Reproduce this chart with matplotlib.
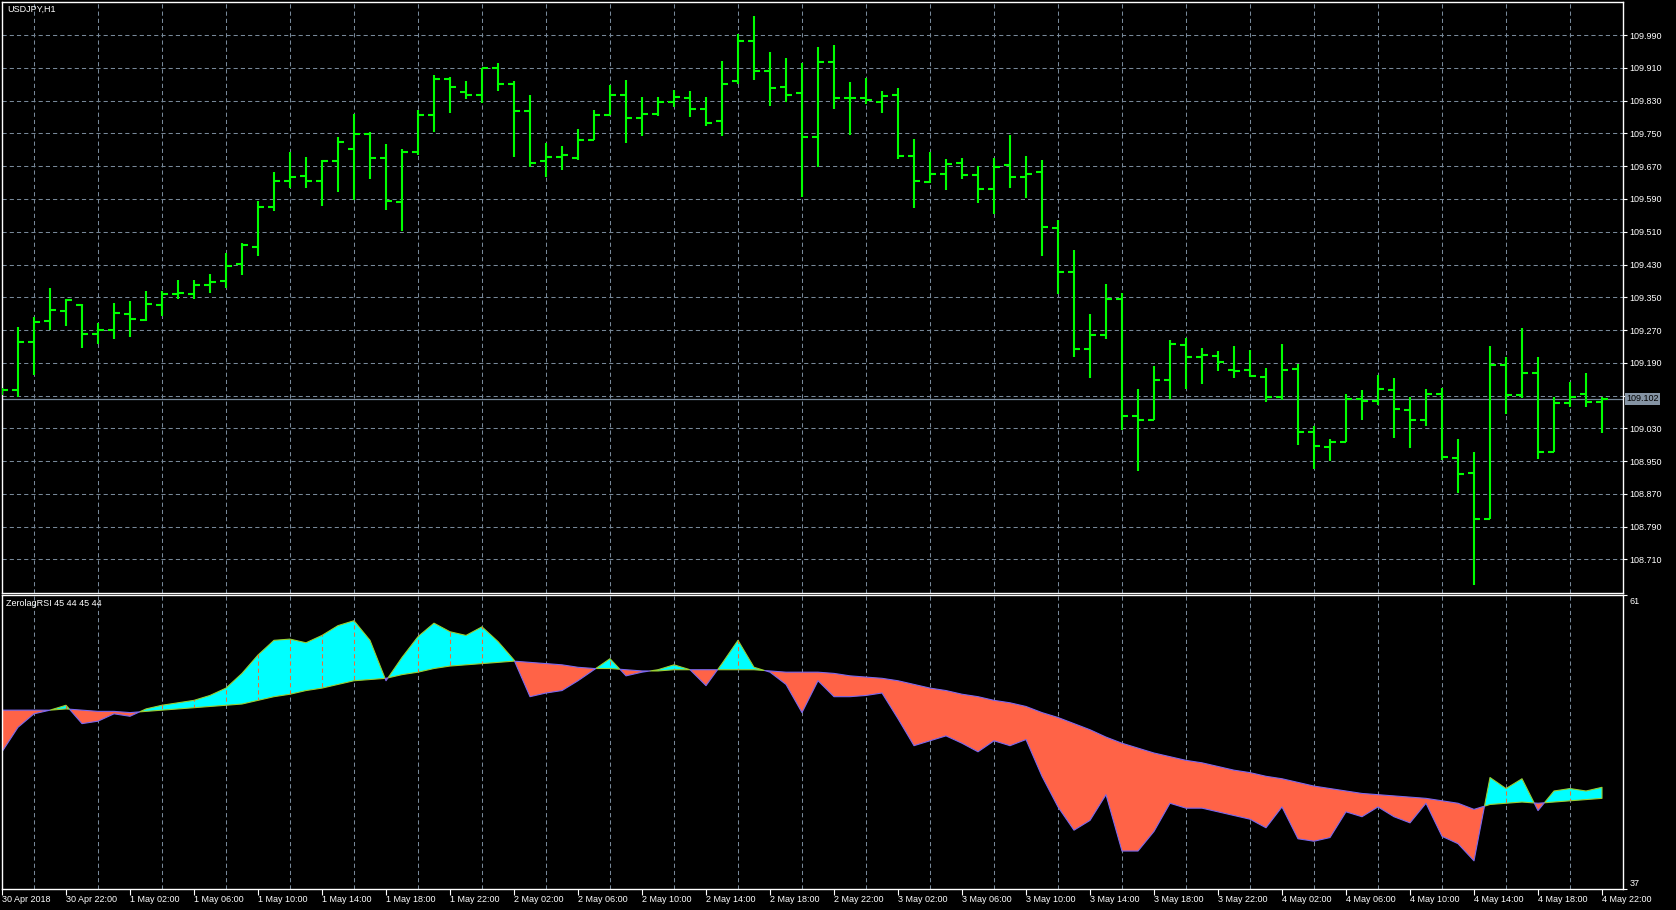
import numpy as np
import matplotlib.pyplot as plt
from matplotlib.path import Path

plt.rcParams['font.family'] = ['Liberation Sans', 'DejaVu Sans']
plt.rcParams['lines.scale_dashes'] = False

# === Dati USDJPY H1 (30 Apr 18:00 -> 4 May 22:00) ===
opens = [109.120, 109.123, 109.241, 109.293, 109.317, 109.330, 109.261, 109.270, 109.310, 109.295,
         109.332, 109.359, 109.359, 109.381, 109.390, 109.432, 109.473, 109.571, 109.633, 109.647,
         109.635, 109.683, 109.713, 109.749, 109.689, 109.583, 109.705, 109.796, 109.882, 109.852,
         109.845, 109.910, 109.871, 109.805, 109.683, 109.693, 109.691, 109.734, 109.794, 109.845,
         109.787, 109.798, 109.827, 109.837, 109.811, 109.781, 109.879, 109.976, 109.903, 109.864,
         109.848, 109.742, 109.924, 109.837, 109.837, 109.827, 109.845, 109.695, 109.632, 109.652,
         109.679, 109.649, 109.614, 109.673, 109.644, 109.656, 109.520, 109.412, 109.224, 109.258,
         109.347, 109.059, 109.051, 109.149, 109.234, 109.203, 109.207, 109.173, 109.173, 109.155,
         109.107, 109.175, 109.022, 108.985, 108.997, 109.102, 109.096, 109.124, 109.075, 109.051,
         109.114, 108.958, 108.921, 108.808, 109.185, 109.112, 109.166, 108.973, 109.092, 109.114,
         109.095]
highs = [109.128, 109.277, 109.302, 109.372, 109.347, 109.333, 109.288, 109.335, 109.340, 109.366,
         109.366, 109.391, 109.391, 109.407, 109.457, 109.482, 109.585, 109.657, 109.706, 109.693,
         109.685, 109.741, 109.797, 109.754, 109.725, 109.711, 109.807, 109.892, 109.889, 109.878,
         109.911, 109.921, 109.878, 109.844, 109.726, 109.719, 109.762, 109.807, 109.868, 109.880,
         109.840, 109.840, 109.855, 109.853, 109.839, 109.926, 109.992, 110.037, 109.949, 109.934,
         109.922, 109.961, 109.966, 109.876, 109.885, 109.853, 109.861, 109.737, 109.705, 109.687,
         109.690, 109.670, 109.690, 109.746, 109.695, 109.685, 109.538, 109.466, 109.308, 109.383,
         109.360, 109.125, 109.183, 109.245, 109.251, 109.226, 109.218, 109.231, 109.221, 109.177,
         109.236, 109.187, 109.036, 109.003, 109.113, 109.123, 109.160, 109.154, 109.106, 109.125,
         109.129, 109.003, 108.973, 109.232, 109.204, 109.275, 109.204, 109.106, 109.144, 109.165,
         109.107]
lows = [109.112, 109.106, 109.160, 109.269, 109.280, 109.227, 109.235, 109.249, 109.254, 109.293,
        109.305, 109.347, 109.345, 109.361, 109.372, 109.405, 109.452, 109.560, 109.618, 109.616,
        109.574, 109.606, 109.588, 109.640, 109.564, 109.512, 109.698, 109.754, 109.801, 109.835,
        109.824, 109.854, 109.693, 109.667, 109.643, 109.662, 109.685, 109.734, 109.794, 109.726,
        109.743, 109.793, 109.814, 109.790, 109.768, 109.743, 109.870, 109.880, 109.816, 109.826,
        109.594, 109.669, 109.811, 109.747, 109.822, 109.801, 109.688, 109.568, 109.629, 109.611,
        109.639, 109.581, 109.553, 109.618, 109.593, 109.452, 109.359, 109.205, 109.153, 109.249,
        109.025, 108.926, 109.051, 109.101, 109.126, 109.139, 109.171, 109.154, 109.155, 109.095,
        109.099, 108.990, 108.931, 108.950, 108.997, 109.050, 109.087, 109.006, 108.982, 109.036,
        108.952, 108.873, 108.648, 108.808, 109.065, 109.104, 108.954, 108.973, 109.083, 109.082,
        109.019]
closes = [109.123, 109.241, 109.290, 109.319, 109.344, 109.261, 109.270, 109.312, 109.297, 109.334,
          109.359, 109.361, 109.379, 109.388, 109.427, 109.478, 109.571, 109.635, 109.644, 109.635,
          109.683, 109.728, 109.749, 109.689, 109.586, 109.705, 109.796, 109.882, 109.864, 109.845,
          109.910, 109.871, 109.805, 109.678, 109.693, 109.698, 109.734, 109.796, 109.845, 109.787,
          109.798, 109.827, 109.840, 109.811, 109.776, 109.872, 109.976, 109.903, 109.862, 109.845,
          109.742, 109.924, 109.837, 109.837, 109.831, 109.842, 109.695, 109.635, 109.652, 109.676,
          109.649, 109.614, 109.668, 109.644, 109.652, 109.522, 109.412, 109.224, 109.258, 109.347,
          109.059, 109.051, 109.149, 109.236, 109.203, 109.210, 109.191, 109.171, 109.158, 109.107,
          109.173, 109.022, 108.987, 108.997, 109.102, 109.096, 109.126, 109.078, 109.051, 109.114,
          108.960, 108.919, 108.809, 109.185, 109.112, 109.166, 108.971, 109.092, 109.107, 109.095,
          109.102]

# ZerolagRSI: linea veloce e linea lenta
rsi_fast = [48.2, 50.2, 51.3, 51.6, 52.0, 50.5, 50.7, 51.3, 51.1, 51.7,
            52.0, 52.2, 52.4, 52.8, 53.4, 54.6, 56.1, 57.3, 57.4, 57.1,
            57.7, 58.5, 58.9, 57.3, 54.0, 55.9, 57.6, 58.7, 58.0, 57.7,
            58.4, 57.2, 55.7, 52.7, 53.0, 53.2, 54.0, 54.9, 55.8, 54.4,
            54.7, 54.9, 55.3, 54.9, 53.6, 55.4, 57.3, 55.1, 54.7, 53.7,
            51.4, 54.0, 52.7, 52.7, 52.8, 53.0, 50.9, 48.7, 49.1, 49.5,
            48.9, 48.2, 49.1, 48.7, 49.2, 46.2, 43.7, 41.8, 42.6, 44.7,
            40.1, 40.1, 41.7, 44.0, 43.6, 43.6, 43.3, 43.0, 42.7, 42.0,
            43.7, 41.1, 40.9, 41.2, 43.3, 42.9, 43.7, 42.9, 42.4, 44.0,
            41.3, 40.7, 39.3, 46.1, 45.2, 46.0, 43.4, 45.0, 45.2, 45.0,
            45.3]
rsi_slow = [51.6, 51.6, 51.6, 51.6, 51.7, 51.6, 51.5, 51.5, 51.4, 51.5,
            51.6, 51.7, 51.8, 51.9, 52.0, 52.1, 52.4, 52.7, 52.9, 53.2,
            53.4, 53.7, 54.0, 54.1, 54.2, 54.5, 54.7, 55.0, 55.2, 55.3,
            55.4, 55.5, 55.6, 55.5, 55.4, 55.3, 55.1, 55.0, 55.0, 54.9,
            54.8, 54.8, 54.9, 54.9, 54.9, 54.9, 54.9, 54.9, 54.8, 54.7,
            54.7, 54.7, 54.6, 54.4, 54.3, 54.2, 54.0, 53.7, 53.4, 53.2,
            52.9, 52.7, 52.4, 52.2, 51.9, 51.4, 51.0, 50.5, 50.0, 49.4,
            48.9, 48.5, 48.1, 47.8, 47.5, 47.3, 47.0, 46.7, 46.5, 46.2,
            46.0, 45.7, 45.4, 45.2, 45.0, 44.8, 44.7, 44.6, 44.5, 44.4,
            44.2, 44.0, 43.5, 43.9, 44.0, 44.1, 44.0, 44.1, 44.2, 44.3,
            44.4]

time_labels = ["30 Apr 2018", "30 Apr 22:00",
               "1 May 02:00", "1 May 06:00", "1 May 10:00", "1 May 14:00", "1 May 18:00", "1 May 22:00",
               "2 May 02:00", "2 May 06:00", "2 May 10:00", "2 May 14:00", "2 May 18:00", "2 May 22:00",
               "3 May 02:00", "3 May 06:00", "3 May 10:00", "3 May 14:00", "3 May 18:00", "3 May 22:00",
               "4 May 02:00", "4 May 06:00", "4 May 10:00", "4 May 14:00", "4 May 18:00", "4 May 22:00"]
price_levels = [108.710, 108.790, 108.870, 108.950, 109.030, 109.110, 109.190, 109.270, 109.350,
                109.430, 109.510, 109.590, 109.670, 109.750, 109.830, 109.910, 109.990]
bid = 109.102
rsi_range = (37, 61)

# === Figura stile MetaTrader ===
W, H = 1676, 910
fig = plt.figure(figsize=(W / 100, H / 100), dpi=100, facecolor='black')


def add_px_axes(x0, y0, x1, y1):
    return fig.add_axes([x0 / W, 1 - y1 / H, (x1 - x0) / W, (y1 - y0) / H], facecolor='black')


ax = add_px_axes(2, 2, 1623, 593)
ax2 = add_px_axes(2, 595, 1623, 889)

x = np.arange(len(closes))
xmax = (1623 - 2) / 16.0
grid_col = '#778899'
green = '#00ff00'
dash = (0, (3, 2.2))
grid_x = np.arange(2, len(closes), 2)

for a in (ax, ax2):
    a.set_xlim(0, xmax)
    for s in a.spines.values():
        s.set_color('white')
        s.set_linewidth(1.0)
    a.set_xticks(grid_x, minor=True)
    a.tick_params(axis='x', which='minor', bottom=False)
    a.grid(True, which='minor', axis='x', color=grid_col, lw=0.75, linestyle=dash, zorder=0)
    a.set_axisbelow(True)

# --- pannello prezzi ---
ax.set_ylim(108.6278, 110.0711)
ax.vlines(x, lows, highs, color=green, lw=1.5, zorder=3)
ax.hlines(opens, x - 0.38, x, color=green, lw=1.5, zorder=3)
ax.hlines(closes, x, x + 0.38, color=green, lw=1.5, zorder=3)
for p in price_levels:
    ax.axhline(p, color=grid_col, lw=0.75, linestyle=dash, zorder=0)
ax.axhline(bid, color=grid_col, lw=0.9, zorder=1)

ax.set_yticks(price_levels)
ax.set_yticklabels(["" if abs(p - 109.110) < 1e-6 else f"{p:.3f}" for p in price_levels])
ax.tick_params(axis='y', left=False, labelleft=False, right=True, labelright=True,
               direction='out', length=3, width=0.8, colors='white', labelsize=6.5, pad=1.5)
ax.set_xticks(np.arange(0, len(closes), 4))
ax.tick_params(axis='x', which='major', bottom=False, labelbottom=False)
ax.text(1.002, bid, f"{bid:.3f}", transform=ax.get_yaxis_transform(), color='black',
        fontsize=6.5, va='center', ha='left', clip_on=False, zorder=10,
        bbox=dict(boxstyle='square,pad=0.15', facecolor='#8493a3', edgecolor='none'))
fig.text(7 / W, 1 - 9.5 / H, "USDJPY,H1", color='white', fontsize=6.5, va='center', ha='left')

# --- pannello ZerolagRSI ---
fast = np.array(rsi_fast)
slow = np.array(rsi_slow)
ax2.set_ylim(*rsi_range)
up = ax2.fill_between(x, fast, slow, where=fast >= slow, interpolate=True,
                      facecolor='#00ffff', edgecolor='#9acd32', lw=0.8, zorder=2)
ax2.fill_between(x, fast, slow, where=fast < slow, interpolate=True,
                 facecolor='#ff6347', edgecolor='#7b68ee', lw=0.8, zorder=2)

# griglia visibile dentro le zone ciano (come in MT4)
clip = Path.make_compound_path(*up.get_paths())
over = ax2.vlines(grid_x, rsi_range[0], rsi_range[1], color='#e8703c', lw=0.75,
                  linestyle=dash, zorder=3)
over.set_clip_path(clip, ax2.transData)

ax2.set_yticks(list(rsi_range))
ax2.tick_params(axis='y', left=False, labelleft=False, right=True, labelright=False,
                direction='out', length=3, width=0.8, colors='white')
ax2.text(1.004, 0.993, str(rsi_range[1]), transform=ax2.transAxes, color='white',
         fontsize=6.5, va='top', ha='left')
ax2.text(1.004, 0.004, str(rsi_range[0]), transform=ax2.transAxes, color='white',
         fontsize=6.5, va='bottom', ha='left')
ax2.text(4 / 1621, 0.986, "ZerolagRSI 45 44 45 44", transform=ax2.transAxes, color='white',
         fontsize=6.5, va='top', ha='left')

ax2.set_xticks(np.arange(0, len(closes), 4))
ax2.set_xticklabels(time_labels)
ax2.tick_params(axis='x', which='major', direction='out', length=4, width=0.8, colors='white',
                labelsize=6.5, pad=0.5)
for lbl in ax2.get_xticklabels():
    lbl.set_horizontalalignment('left')

fig.savefig("out.png", dpi=100, facecolor='black')
